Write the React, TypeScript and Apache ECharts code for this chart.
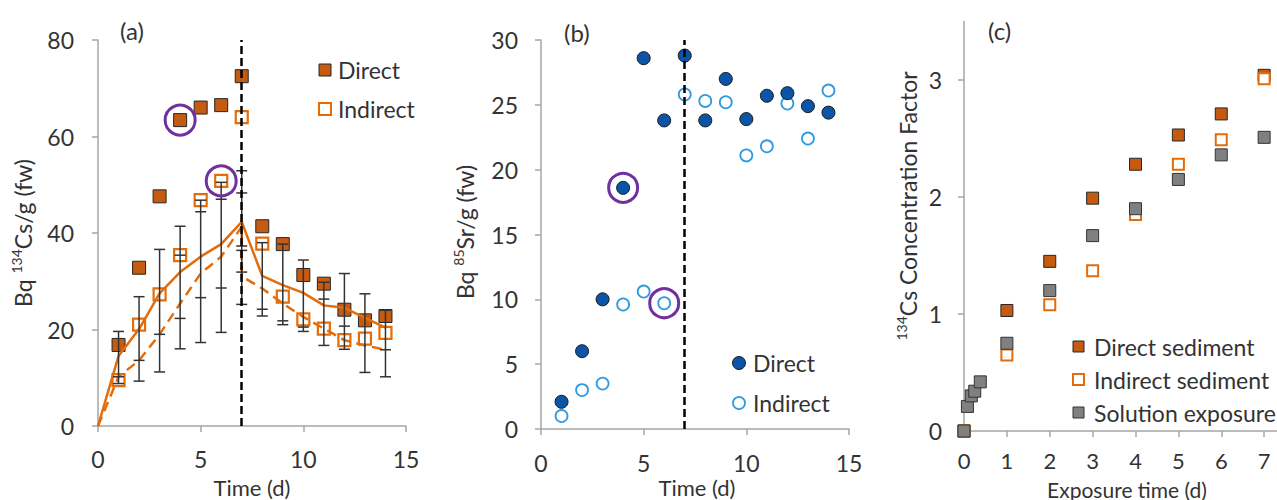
import React, { useEffect, useRef } from 'react';
import * as echarts from 'echarts';

// ---- Panel (a): 134Cs, Bq/g (fw) ----
const days = [1, 2, 3, 4, 5, 6, 7, 8, 9, 10, 11, 12, 13, 14];
const csDirect = [16.8, 32.8, 47.6, 63.4, 66.0, 66.5, 72.5, 41.4, 37.7, 31.3, 29.5, 24.1, 21.9, 22.8];
const csIndirect = [9.5, 21.0, 27.3, 35.4, 46.8, 50.8, 64.0, 37.8, 26.8, 22.1, 20.2, 17.8, 18.1, 19.3];
const modelDays = [0, 1, 2, 3, 4, 5, 6, 7, 8, 9, 10, 11, 12, 13, 14];
const modelDirect = [0, 14.5, 20.1, 27.5, 31.9, 35.1, 37.7, 42.3, 31.1, 29.2, 27.6, 25.0, 24.5, 22.4, 20.4];
const modelIndirectDays = [0, 1, 2, 3, 4, 5, 6, 7, 7, 8, 9, 10, 11, 12, 13, 14];
const modelIndirect = [0, 10.2, 13.6, 19.0, 25.4, 31.6, 35.1, 41.3, 31.0, 28.5, 25.4, 22.6, 20.2, 17.8, 16.7, 15.8];
const errLow = [8.8, 9.3, 11.2, 16.0, 17.3, 19.4, 25.2, 22.8, 21.0, 19.6, 16.7, 15.9, 11.1, 10.2];
const errHigh = [19.6, 26.8, 36.6, 41.4, 46.8, 50.5, 52.9, 38.0, 37.7, 34.4, 29.8, 31.6, 27.4, 24.0];
const errCaps = [[10.2], [13.6], [19.0], [22.3, 35.4], [26.6, 44.4], [28.6, 47.0], [48.3, 37.3, 36.4, 31.9], [24.2], [21.8], [20.5], [26.3], [20.7], [], [15.8]];

// ---- Panel (b): 85Sr, Bq/g (fw) ----
const srDirect = [2.1, 6.0, 10.0, 18.6, 28.6, 23.8, 28.8, 23.8, 27.0, 23.9, 25.7, 25.9, 24.9, 24.4];
const srIndirect = [1.0, 3.0, 3.5, 9.6, 10.6, 9.7, 25.8, 25.3, 25.2, 21.1, 21.8, 25.1, 22.4, 26.1];

// ---- Panel (c): 134Cs concentration factor ----
const expDays = [0, 1, 2, 3, 4, 5, 6, 7];
const cfDirect = [0, 1.03, 1.45, 1.99, 2.28, 2.53, 2.71, 3.04];
const cfIndirect = [0, 0.65, 1.08, 1.37, 1.85, 2.28, 2.49, 3.01];
const solDays = [0, 0.08, 0.17, 0.25, 0.38, 1, 2, 3, 4, 5, 6, 7];
const cfSolution = [0, 0.21, 0.3, 0.34, 0.42, 0.75, 1.2, 1.67, 1.9, 2.15, 2.36, 2.51];

const yTicksC = [0, 1, 2, 3];
const xTicksC = [0, 1, 2, 3, 4, 5, 6, 7];

const FONT = 'Lato';
const TXT = '#333333';
const AXIS = '#A6A6A6';
const ORANGE_FILL = '#C55A11';
const ORANGE = '#E46C0A';
const PURPLE = '#7030A0';
const BLUE = '#0B54A8';
const LIGHTBLUE = '#2E9BE0';
const GRAY = '#808080';

const pairs = (xs: number[], ys: number[]) => xs.map((x, i) => [x, ys[i]]);

function axisCfg(gridIndex: number, min: number, max: number, interval: number, margin: number, extra: any = {}) {
  return {
    gridIndex, type: 'value', min, max, interval,
    axisLine: { show: true, onZero: false, lineStyle: { color: AXIS, width: 1.5 } },
    axisTick: { show: true, length: 6, lineStyle: { color: AXIS, width: 1.5 }, ...(extra.axisTick || {}) },
    axisLabel: { margin, fontSize: 23, fontFamily: FONT, color: TXT, ...(extra.axisLabel || {}) },
    splitLine: { show: false },
  };
}

function txt(x: number, y: number, text: string, extra: any = {}) {
  return {
    type: 'text', x, y,
    style: { text, fill: TXT, fontSize: 23, fontFamily: FONT, verticalAlign: 'middle', align: 'left', ...extra },
  };
}
function ytitle(x: number, y: number, pre: string, sup: string, post: string) {
  return {
    type: 'text', x, y, rotation: Math.PI / 2,
    style: {
      text: `{n|${pre}}{s|${sup}}{n|${post}}`,
      align: 'center', verticalAlign: 'middle',
      rich: {
        n: { fontSize: 23, fontFamily: FONT, fill: TXT, lineHeight: 28 },
        s: { fontSize: 14, fontFamily: FONT, fill: TXT, verticalAlign: 'top', lineHeight: 16 },
      },
    },
  };
}

export default function App() {
  const ref = useRef<HTMLDivElement>(null);
  useEffect(() => {
    if (!ref.current) return;
    const chart = echarts.init(ref.current, null, { renderer: 'svg' });
    const vline = {
      symbol: 'none', silent: true, label: { show: false },
      lineStyle: { type: [8, 4], color: '#000', width: 2.5 },
      data: [{ xAxis: 7 }],
    };
    const option: any = {
      animation: false,
      backgroundColor: '#fff',
      grid: [
        { left: 98, top: 40, width: 308, height: 386 },
        { left: 541, top: 40, width: 308, height: 389 },
        { left: 964, top: 21.5, width: 315, height: 409.5 },
      ],
      xAxis: [
        axisCfg(0, 0, 15, 5, 21),
        axisCfg(1, 0, 15, 5, 22),
        axisCfg(2, 0, 7.3, 1, 18, { axisTick: { customValues: xTicksC }, axisLabel: { customValues: xTicksC, fontSize: 22 } }),
      ],
      yAxis: [
        axisCfg(0, 0, 80, 20, 24),
        axisCfg(1, 0, 30, 5, 23),
        axisCfg(2, 0, 3.5, 1, 22, { axisTick: { customValues: yTicksC }, axisLabel: { customValues: yTicksC } }),
      ],
      series: [
        // Panel (a)
        {
          type: 'scatter', name: 'Cs Direct', xAxisIndex: 0, yAxisIndex: 0, z: 2,
          symbol: 'rect', symbolSize: 13,
          itemStyle: { color: ORANGE_FILL, borderColor: '#262626', borderWidth: 1, opacity: 1 },
          data: pairs(days, csDirect),
          markLine: vline,
        },
        {
          type: 'scatter', name: 'Cs Indirect', xAxisIndex: 0, yAxisIndex: 0, z: 2,
          symbol: 'rect', symbolSize: 12,
          itemStyle: { color: 'rgba(255,255,255,0)', borderColor: ORANGE, borderWidth: 2.2, opacity: 1 },
          data: pairs(days, csIndirect),
        },
        {
          type: 'line', name: 'Model Direct', xAxisIndex: 0, yAxisIndex: 0, z: 3,
          symbol: 'none', lineStyle: { color: ORANGE, width: 2.5 },
          data: pairs(modelDays, modelDirect),
        },
        {
          type: 'line', name: 'Model Indirect', xAxisIndex: 0, yAxisIndex: 0, z: 3,
          symbol: 'none', lineStyle: { color: ORANGE, width: 2.5, type: [10, 6] },
          data: pairs(modelIndirectDays, modelIndirect),
        },
        {
          type: 'custom', name: 'Error', xAxisIndex: 0, yAxisIndex: 0, z: 4,
          data: days.map((d, i) => [d, errLow[i], errHigh[i]]),
          encode: { x: 0, y: [1, 2] },
          renderItem: (params: any, api: any) => {
            const x = api.value(0);
            const lo = api.value(1);
            const hi = api.value(2);
            const pLo = api.coord([x, lo]);
            const pHi = api.coord([x, hi]);
            const st = { stroke: '#333', lineWidth: 1.5 };
            const children: any[] = [
              { type: 'line', shape: { x1: pLo[0], y1: pLo[1], x2: pHi[0], y2: pHi[1] }, style: st },
            ];
            [lo, hi, ...errCaps[params.dataIndex]].forEach((v) => {
              const p = api.coord([x, v]);
              children.push({ type: 'line', shape: { x1: p[0] - 5.5, y1: p[1], x2: p[0] + 5.5, y2: p[1] }, style: st });
            });
            return { type: 'group', children };
          },
        },
        {
          type: 'scatter', name: 'Cs Highlight', xAxisIndex: 0, yAxisIndex: 0, z: 5,
          symbol: 'circle', symbolSize: 30,
          itemStyle: { color: 'rgba(0,0,0,0)', borderColor: PURPLE, borderWidth: 3, opacity: 1 },
          data: [[days[3], csDirect[3]], [days[5], csIndirect[5]]],
        },
        // Panel (b)
        {
          type: 'scatter', name: 'Sr Direct', xAxisIndex: 1, yAxisIndex: 1, z: 3,
          symbol: 'circle', symbolSize: 13,
          itemStyle: { color: BLUE, borderColor: '#1a1a1a', borderWidth: 1, opacity: 1 },
          data: pairs(days, srDirect),
          markLine: vline,
        },
        {
          type: 'scatter', name: 'Sr Indirect', xAxisIndex: 1, yAxisIndex: 1, z: 2,
          symbol: 'circle', symbolSize: 12,
          itemStyle: { color: '#fff', borderColor: LIGHTBLUE, borderWidth: 1.8, opacity: 1 },
          data: pairs(days, srIndirect),
        },
        {
          type: 'scatter', name: 'Sr Highlight', xAxisIndex: 1, yAxisIndex: 1, z: 5,
          symbol: 'circle', symbolSize: 29,
          itemStyle: { color: 'rgba(0,0,0,0)', borderColor: PURPLE, borderWidth: 3, opacity: 1 },
          data: [[days[3], srDirect[3]], [days[5], srIndirect[5]]],
        },
        // Panel (c)
        {
          type: 'scatter', name: 'Direct sediment', xAxisIndex: 2, yAxisIndex: 2, z: 2,
          symbol: 'rect', symbolSize: 12,
          itemStyle: { color: ORANGE_FILL, borderColor: '#262626', borderWidth: 1, opacity: 1 },
          data: pairs(expDays, cfDirect),
        },
        {
          type: 'scatter', name: 'Indirect sediment', xAxisIndex: 2, yAxisIndex: 2, z: 3,
          symbol: 'rect', symbolSize: 11,
          itemStyle: { color: '#fff', borderColor: ORANGE, borderWidth: 2, opacity: 1 },
          data: pairs(expDays, cfIndirect),
        },
        {
          type: 'scatter', name: 'Solution exposure', xAxisIndex: 2, yAxisIndex: 2, z: 4,
          symbol: 'rect', symbolSize: 12,
          itemStyle: { color: GRAY, borderColor: '#333', borderWidth: 1, opacity: 1 },
          data: pairs(solDays, cfSolution),
        },
      ],
      graphic: [
        // panel labels
        txt(120, 30, '(a)', { fontSize: 24 }),
        txt(564, 32, '(b)', { fontSize: 24 }),
        txt(988, 30, '(c)', { fontSize: 24 }),
        // axis titles
        txt(252, 487, 'Time (d)', { align: 'center', fontSize: 22 }),
        txt(697, 487, 'Time (d)', { align: 'center', fontSize: 22 }),
        txt(1127, 489, 'Exposure time (d)', { align: 'center', fontSize: 21 }),
        ytitle(23, 233, 'Bq ', '134', 'Cs/g (fw)'),
        ytitle(465, 232, 'Bq ', '85', 'Sr/g (fw)'),
        ytitle(908, 206, '', '134', 'Cs Concentration Factor'),
        // legend (a)
        { type: 'rect', shape: { x: 319, y: 64, width: 12, height: 12 }, style: { fill: ORANGE_FILL, stroke: '#262626', lineWidth: 1 } },
        txt(338, 70, 'Direct'),
        { type: 'rect', shape: { x: 319, y: 103, width: 12, height: 12 }, style: { fill: '#fff', stroke: ORANGE, lineWidth: 2 } },
        txt(338, 109, 'Indirect'),
        // legend (b)
        { type: 'circle', shape: { cx: 739, cy: 363, r: 6.5 }, style: { fill: BLUE, stroke: '#1a1a1a', lineWidth: 1 } },
        txt(753, 363, 'Direct'),
        { type: 'circle', shape: { cx: 739, cy: 403, r: 6 }, style: { fill: '#fff', stroke: LIGHTBLUE, lineWidth: 1.8 } },
        txt(753, 403, 'Indirect'),
        // legend (c)
        { type: 'rect', shape: { x: 1073, y: 341, width: 11, height: 11 }, style: { fill: ORANGE_FILL, stroke: '#262626', lineWidth: 1 } },
        txt(1094, 347, 'Direct sediment'),
        { type: 'rect', shape: { x: 1073, y: 374, width: 11, height: 11 }, style: { fill: '#fff', stroke: ORANGE, lineWidth: 2 } },
        txt(1094, 380, 'Indirect sediment'),
        { type: 'rect', shape: { x: 1073, y: 407, width: 11, height: 11 }, style: { fill: GRAY, stroke: '#333', lineWidth: 1 } },
        txt(1094, 413, 'Solution exposure'),
      ],
    };
    chart.setOption(option);
    return () => chart.dispose();
  }, []);
  return (
    <div
      ref={ref}
      style={{ position: 'fixed', left: 0, top: 0, width: 1277, height: 500, background: '#fff' }}
    />
  );
}
